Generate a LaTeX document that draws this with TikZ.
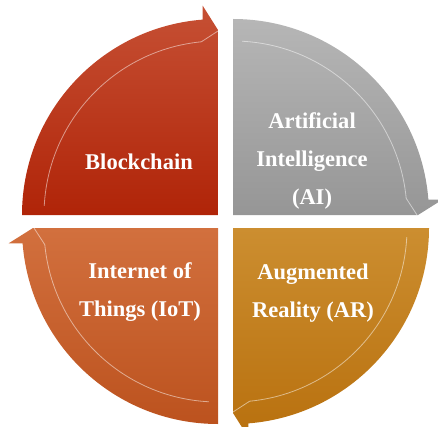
\documentclass[tikz,border=0pt]{standalone}
\usepackage{fontspec}
\setmainfont{Liberation Serif}
\definecolor{redtop}{RGB}{198,80,52}
\definecolor{redbot}{RGB}{176,36,8}
\definecolor{graytop}{RGB}{182,182,182}
\definecolor{graybot}{RGB}{150,150,150}
\definecolor{goldtop}{RGB}{204,142,48}
\definecolor{goldbot}{RGB}{184,112,14}
\definecolor{orangetop}{RGB}{210,112,62}
\definecolor{orangebot}{RGB}{188,82,30}
\newcommand\quadseg[4]{%
  % #1 centre, #2 angle offset, #3 top colour, #4 bottom colour
  \begin{scope}[shift={#1}]
    \shade[top color=#3, bottom color=#4]
      (0,0) -- (180+#2:196) arc[start angle=180+#2, end angle=94.5+#2, radius=196]
      -- (94.2+#2:210) -- (90+#2:185) -- cycle;
    \draw[hilite] (177+#2:174) arc[start angle=177+#2, end angle=95.5+#2, radius=174]
      -- (90+#2:184);
  \end{scope}}
\begin{document}
\begin{tikzpicture}[x=1pt,y=1pt,
  hilite/.style={white, opacity=.5, line width=.8pt},
  label/.style={text=white, align=center, font=\fontsize{22.5}{38}\selectfont\bfseries}]
\useasboundingbox (0,0) rectangle (438,426);
\quadseg{(218,211)}{0}{redtop}{redbot}
\quadseg{(233,211)}{-90}{graytop}{graybot}
\quadseg{(233,198)}{-180}{goldtop}{goldbot}
\quadseg{(218,198)}{-270}{orangetop}{orangebot}
\node[label] (bc) at (139,264) {Blockchain};
\node[label] (ai) at (312,265) {Artificial\\Intelligence\\(AI)};
\node[label] (iot) at (140,134) {Internet of\\Things (IoT)};
\node[label] (ar) at (313,133) {Augmented\\Reality (AR)};
\end{tikzpicture}
\end{document}
